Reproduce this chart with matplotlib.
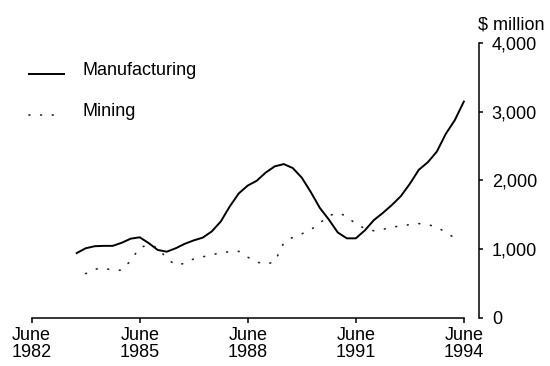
import numpy as np
import matplotlib
matplotlib.use("Agg")
import matplotlib.pyplot as plt

plt.rcParams['font.family'] = ['Liberation Sans', 'DejaVu Sans']

# quarterly values, $ million
quarters = np.arange(1983.75, 1994.75, 0.25)
manufacturing = [940, 1010, 1040, 1045, 1045, 1090, 1150, 1170, 1085, 985,
                 960, 1010, 1075, 1125, 1165, 1255, 1400, 1620, 1810, 1925,
                 1995, 2115, 2205, 2238, 2180, 2040, 1830, 1600, 1430, 1240,
                 1155, 1155, 1270, 1420, 1525, 1640, 1770, 1950, 2155, 2265,
                 2420, 2680, 2880, 3150]
mining_quarters = quarters[1:-1]
mining = [640, 705, 720, 690, 690, 830, 1020, 1060, 1020, 860,
          765, 790, 855, 885, 915, 945, 960, 965, 880, 810,
          775, 815, 1090, 1170, 1220, 1280, 1375, 1485, 1525, 1480,
          1360, 1300, 1265, 1285, 1318, 1335, 1355, 1370, 1355, 1320,
          1240, 1160]

tick_years = [1982.5, 1985.5, 1988.5, 1991.5, 1994.5]
tick_labels = ["June\n1982", "June\n1985", "June\n1988", "June\n1991", "June\n1994"]
y_ticks = [0, 1000, 2000, 3000, 4000]
y_labels = ["0", "1,000", "2,000", "3,000", "4,000"]

fig = plt.figure(figsize=(5.5, 3.66), dpi=100)
ax = fig.add_axes([0.0576, 0.1325, 0.8139, 0.7492])

ax.plot(quarters, manufacturing, color="black", lw=1.4, solid_joinstyle="round")
ax.plot(mining_quarters, mining, color="#222222", lw=1.2, linestyle=(0, (0.5, 6.5)),
        dash_capstyle="round")

ax.set_xlim(1982.5, 1994.93)
ax.set_ylim(0, 4000)

# spines: bottom and right only, not joined
for s in ["top", "left"]:
    ax.spines[s].set_visible(False)
ax.spines["bottom"].set_bounds(1982.5, 1994.5)
ax.spines["right"].set_bounds(0, 4000)
ax.spines["bottom"].set_linewidth(1.1)
ax.spines["right"].set_linewidth(1.1)

ax.yaxis.tick_right()
ax.set_xticks(tick_years)
ax.set_xticklabels(tick_labels, fontsize=13, linespacing=1.0)
ax.set_yticks(y_ticks)
ax.set_yticklabels(y_labels, fontsize=13)
ax.tick_params(axis="x", direction="out", length=3.5, width=1.1, pad=3)
ax.tick_params(axis="y", direction="out", length=3, width=1.1, pad=6)

ax.text(0.998, 1.035, "$ million", transform=ax.transAxes, fontsize=13,
        ha="left", va="bottom")

# legend drawn by hand like the original
ax.plot([-0.006, 0.072], [0.888, 0.888], transform=ax.transAxes, color="black", lw=1.4,
        clip_on=False)
ax.text(0.114, 0.900, "Manufacturing", transform=ax.transAxes, fontsize=13,
        ha="left", va="center")
ax.plot([-0.006, 0.068], [0.738, 0.738], transform=ax.transAxes, color="#222222", lw=1.2,
        linestyle=(0, (0.5, 6.5)), dash_capstyle="round", clip_on=False)
ax.text(0.114, 0.750, "Mining", transform=ax.transAxes, fontsize=13,
        ha="left", va="center")

fig.savefig("out.png", dpi=100)
